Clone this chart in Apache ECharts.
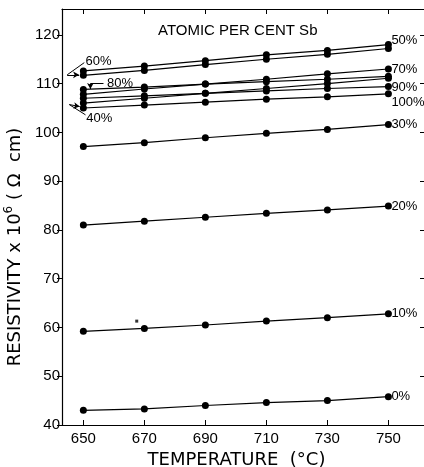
<!DOCTYPE html>
<html>
<head>
<meta charset="utf-8">
<script src="https://cdn.jsdelivr.net/npm/echarts@6/dist/echarts.min.js"></script>
<style>
  html, body { margin: 0; padding: 0; background: #fff; }
  #container { width: 424px; height: 467px; }
</style>
</head>
<body>
<div id="container"></div>
<script>
  // temperatures (deg C)
  var temps = [650, 670, 690, 710, 730, 750];

  // resistivity x 10^6 (ohm cm), per atomic per cent Sb
  var sb0   = [43.0, 43.3, 44.0, 44.6, 45.0, 45.8];
  var sb10  = [59.2, 59.8, 60.5, 61.3, 62.0, 62.8];
  var sb20  = [81.0, 81.8, 82.6, 83.4, 84.1, 84.9];
  var sb30  = [97.1, 97.9, 98.9, 99.8, 100.6, 101.6];
  var sb40  = [106.0, 107.0, 108.0, 109.0, 110.0, 111.1];
  var sb50  = [112.6, 113.6, 114.7, 115.9, 116.8, 118.0];
  var sb60  = [111.7, 112.7, 113.9, 115.0, 116.0, 117.2];
  var sb70  = [107.8, 108.9, 109.9, 110.9, 112.0, 113.0];
  var sb80  = [108.8, 109.3, 109.9, 110.4, 110.9, 111.5];
  var sb90  = [107.0, 107.5, 108.0, 108.5, 109.0, 109.4];
  var sb100 = [105.0, 105.6, 106.2, 106.8, 107.3, 107.9];

  var xTicks = [650, 670, 690, 710, 730, 750];
  var yTicks = [40, 50, 60, 70, 80, 90, 100, 110, 120];

  // stray speck printed on the original figure
  var speck = [[667.5, 61.3]];

  // left-side labels with leader arrows (data coordinates)
  var leftLabels = [
    { text: '60%', at: [655.0, 114.6] },
    { text: '80%', at: [662.0, 110.1] },
    { text: '40%', at: [655.2, 102.9] }
  ];
  var leaders = [
    [[650.3, 114.3], [644.7, 111.8], false],
    [[644.7, 111.8], [648.6, 111.8], true],
    [[656.6, 110.0], [652.3, 110.0], false],
    [[652.3, 110.0], [652.3, 108.9], true],
    [[650.7, 103.6], [645.4, 105.7], false],
    [[645.4, 105.7], [648.8, 105.3], true]
  ];

  var curves = [
    { name: '0%',   data: sb0,   label: true,  dy: 0 },
    { name: '10%',  data: sb10,  label: true,  dy: 0 },
    { name: '20%',  data: sb20,  label: true,  dy: 0 },
    { name: '30%',  data: sb30,  label: true,  dy: 0 },
    { name: '40%',  data: sb40,  label: false, dy: 0 },
    { name: '50%',  data: sb50,  label: true,  dy: -4 },
    { name: '60%',  data: sb60,  label: false, dy: 0 },
    { name: '70%',  data: sb70,  label: true,  dy: 0 },
    { name: '80%',  data: sb80,  label: false, dy: 0 },
    { name: '90%',  data: sb90,  label: true,  dy: 1 },
    { name: '100%', data: sb100, label: true,  dy: 9 }
  ];

  var FONT = 'Liberation Sans';
  var NAME_FONT = 'DejaVu Sans';
  var dom = document.getElementById('container');
  var chart = echarts.init(dom, null, { renderer: 'canvas' });

  var series = curves.map(function (c) {
    return {
      name: c.name,
      type: 'line',
      data: temps.map(function (t, i) { return [t, c.data[i]]; }),
      symbol: 'circle',
      symbolSize: 7,
      itemStyle: { color: '#000' },
      lineStyle: { color: '#000', width: 1.2 },
      animation: false,
      silent: true,
      endLabel: {
        show: c.label,
        formatter: c.name,
        color: '#000',
        fontFamily: FONT,
        fontSize: 13,
        distance: 3,
        offset: [0, c.dy]
      }
    };
  });

  series.push({
    type: 'scatter',
    data: speck,
    symbol: 'rect',
    symbolSize: 3,
    itemStyle: { color: '#000' },
    silent: true,
    animation: false
  });

  series.push({
    type: 'line',
    data: [],
    silent: true,
    animation: false,
    markLine: {
      silent: true,
      animation: false,
      symbolSize: [5, 6],
      lineStyle: { color: '#000', width: 1, type: 'solid' },
      label: { show: false },
      data: leaders.map(function (l) {
        return [
          { coord: l[0], symbol: 'none' },
          { coord: l[1], symbol: l[2] ? 'arrow' : 'none' }
        ];
      })
    },
    markPoint: {
      silent: true,
      animation: false,
      symbol: 'circle',
      symbolSize: 0,
      label: {
        show: true,
        color: '#000',
        fontFamily: FONT,
        fontSize: 13,
        formatter: function (p) { return p.name; }
      },
      data: leftLabels.map(function (l) {
        return { name: l.text, coord: l.at };
      })
    }
  });

  var option = {
    backgroundColor: '#fff',
    animation: false,
    title: {
      text: 'ATOMIC PER CENT Sb',
      left: 153,
      top: 18,
      textStyle: { fontFamily: FONT, fontSize: 15, fontWeight: 'normal', color: '#000' }
    },
    grid: { left: 62, right: -1, top: 9, bottom: 42, outerBoundsMode: 'none' },
    xAxis: [
      {
        type: 'value',
        min: 643,
        max: 762,
        name: 'TEMPERATURE  (°C)',
        nameLocation: 'middle',
        nameGap: 20,
        nameTextStyle: { fontFamily: NAME_FONT, fontSize: 18, color: '#000', padding: [0, 14, 0, 0] },
        axisLine: { show: true, lineStyle: { color: '#000', width: 1.2 } },
        axisTick: { show: true, inside: true, length: 5, customValues: xTicks, lineStyle: { color: '#000' } },
        axisLabel: { customValues: xTicks, fontFamily: FONT, fontSize: 15, color: '#000', margin: 6 },
        splitLine: { show: false }
      },
      {
        type: 'value',
        position: 'top',
        min: 643,
        max: 762,
        axisLine: { show: true, lineStyle: { color: '#000', width: 1.2 } },
        axisTick: { show: true, inside: true, length: 5, customValues: xTicks, lineStyle: { color: '#000' } },
        axisLabel: { show: false },
        splitLine: { show: false }
      }
    ],
    yAxis: [
      {
        type: 'value',
        min: 40,
        max: 125.3,
        name: 'RESISTIVITY x 10{s|6} ( Ω  cm)',
        nameLocation: 'middle',
        nameGap: 31,
        nameTextStyle: {
          fontFamily: NAME_FONT, fontSize: 18, color: '#000', padding: [0, 60, 0, 0],
          rich: { s: { fontFamily: NAME_FONT, fontSize: 12, color: '#000', verticalAlign: 'bottom', padding: [0, 0, 13, 0] } }
        },
        axisLine: { show: true, lineStyle: { color: '#000', width: 1.2 } },
        axisTick: { show: true, inside: false, length: 5, customValues: yTicks, lineStyle: { color: '#000' } },
        axisLabel: { customValues: yTicks, fontFamily: FONT, fontSize: 15, color: '#000', margin: 2 },
        splitLine: { show: false }
      },
      {
        type: 'value',
        position: 'right',
        min: 40,
        max: 125.3,
        axisLine: { show: true, lineStyle: { color: '#000', width: 1.2 } },
        axisTick: { show: true, inside: true, length: 5, customValues: yTicks, lineStyle: { color: '#000' } },
        axisLabel: { show: false },
        splitLine: { show: false }
      }
    ],
    series: series
  };

  chart.setOption(option, true);
  window.addEventListener('resize', function () { chart.resize(); });
</script>
</body>
</html>
